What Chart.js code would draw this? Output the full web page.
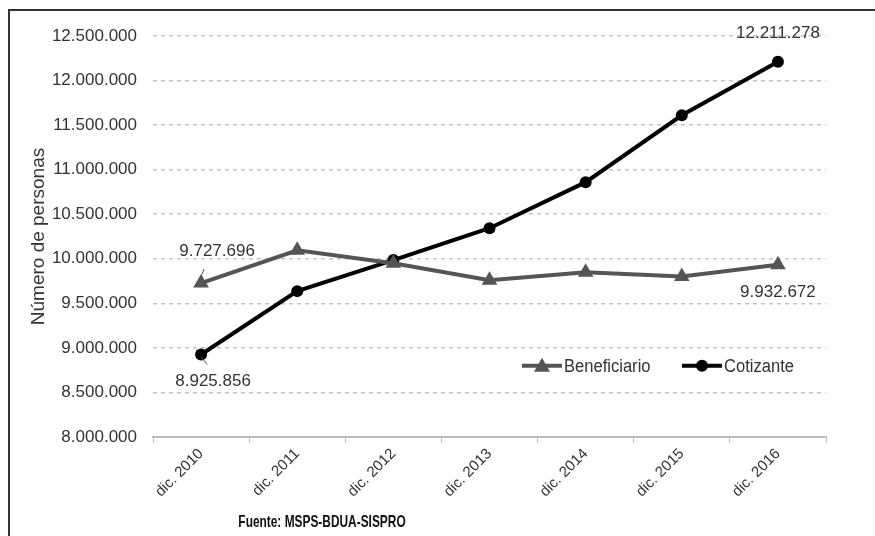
<!DOCTYPE html>
<html lang="es">
<head>
  <meta charset="UTF-8" />
  <title>Número de personas</title>
  <script src="https://cdn.jsdelivr.net/npm/chart.js"></script>
  <style>
    html, body { margin: 0; padding: 0; background: #fff; }
    #wrap { width: 875px; height: 536px; position: relative; }
  </style>
</head>
<body>
  <div id="wrap"><canvas id="grafico" width="875" height="536"></canvas></div>

  <script>
    const anios = ["dic. 2010", "dic. 2011", "dic. 2012", "dic. 2013", "dic. 2014", "dic. 2015", "dic. 2016"];
    const beneficiario = [9727696, 10095000, 9950000, 9760000, 9850000, 9800000, 9932672];
    const cotizante = [8925856, 9637000, 9985000, 10343000, 10860000, 11610000, 12211278];
    const fuente = "Fuente: MSPS-BDUA-SISPRO";

    const fmt = (v) => Math.round(v).toString().replace(/\B(?=(\d{3})+(?!\d))/g, ".");
    const sans = "'Liberation Sans', Arial, sans-serif";

    // etiquetas de primer y último valor, con desplazamiento respecto al punto
    const etiquetas = [
      { ds: 0, i: 0, dx: 16, dy: -32, lx: [3, -3], ly: [-14, 1] },
      { ds: 1, i: 0, dx: 12, dy: 27, lx: [0, 6], ly: [2, 10] },
      { ds: 1, i: 6, dx: 0, dy: -28 },
      { ds: 0, i: 6, dx: 0, dy: 28 }
    ];

    // texto condensado (no hay fuente "narrow" instalada)
    function textoEstrecho(ctx, txt, x, y, esc, align) {
      ctx.save();
      ctx.translate(x, y);
      ctx.scale(esc, 1);
      ctx.textAlign = align;
      ctx.fillText(txt, 0, 0);
      ctx.restore();
    }

    const marco = {
      id: "marco",
      beforeDraw(chart) {
        const ctx = chart.ctx;
        ctx.save();
        ctx.fillStyle = "#fff";
        ctx.fillRect(0, 0, chart.width, chart.height);
        ctx.strokeStyle = "#333";
        ctx.lineWidth = 2;
        ctx.beginPath();
        ctx.moveTo(9, chart.height);
        ctx.lineTo(9, 10);
        ctx.lineTo(chart.width, 10);
        ctx.stroke();
        ctx.restore();
      },
      afterDraw(chart) {
        const ctx = chart.ctx;
        ctx.save();
        ctx.font = "17px " + sans;
        ctx.fillStyle = "#333";
        ctx.textAlign = "center";
        ctx.textBaseline = "middle";
        etiquetas.forEach(e => {
          const p = chart.getDatasetMeta(e.ds).data[e.i];
          const val = chart.data.datasets[e.ds].data[e.i];
          ctx.fillText(fmt(val), p.x + e.dx, p.y + e.dy);
          if (e.lx) {
            ctx.strokeStyle = "#555";
            ctx.lineWidth = 1;
            ctx.beginPath();
            ctx.moveTo(p.x + e.lx[0], p.y + e.ly[0]);
            ctx.lineTo(p.x + e.lx[1], p.y + e.ly[1]);
            ctx.stroke();
          }
        });

        // leyenda dentro del área del gráfico
        const a = chart.chartArea;
        const ly = chart.scales.y.getPixelForValue(8800000);
        const items = [
          { x: a.left + 369, ds: 0 },
          { x: a.left + 529, ds: 1 }
        ];
        items.forEach(it => {
          const d = chart.data.datasets[it.ds];
          ctx.strokeStyle = d.borderColor;
          ctx.lineWidth = 4;
          ctx.beginPath();
          ctx.moveTo(it.x, ly);
          ctx.lineTo(it.x + 40, ly);
          ctx.stroke();
          ctx.fillStyle = d.borderColor;
          ctx.beginPath();
          if (d.pointStyle === "triangle") {
            ctx.moveTo(it.x + 20, ly - 8);
            ctx.lineTo(it.x + 28, ly + 6);
            ctx.lineTo(it.x + 12, ly + 6);
            ctx.closePath();
          } else {
            ctx.arc(it.x + 20, ly, 6, 0, Math.PI * 2);
          }
          ctx.fill();
          ctx.fillStyle = "#333";
          ctx.font = "18px " + sans;
          textoEstrecho(ctx, d.label, it.x + 42, ly + 1, 0.92, "left");
        });

        ctx.font = "bold 17px " + sans;
        ctx.fillStyle = "#111";
        textoEstrecho(ctx, fuente, 322, 522, 0.7, "center");
        ctx.restore();
      }
    };

    new Chart(document.getElementById("grafico"), {
      type: "line",
      data: {
        labels: anios,
        datasets: [
          {
            label: "Beneficiario",
            data: beneficiario,
            borderColor: "#555",
            backgroundColor: "#555",
            borderWidth: 4,
            pointStyle: "triangle",
            pointRadius: 9,
            pointBorderWidth: 0,
            fill: false,
            tension: 0
          },
          {
            label: "Cotizante",
            data: cotizante,
            borderColor: "#000",
            backgroundColor: "#000",
            borderWidth: 4,
            pointStyle: "circle",
            pointRadius: 6,
            pointBorderWidth: 0,
            fill: false,
            tension: 0
          }
        ]
      },
      plugins: [marco],
      options: {
        responsive: false,
        animation: false,
        devicePixelRatio: 1,
        layout: { padding: { left: 27, right: 49, top: 36, bottom: 0 } },
        plugins: {
          legend: { display: false },
          tooltip: { enabled: false }
        },
        scales: {
          x: {
            offset: true,
            afterFit(scale) { scale.height = 99; },
            border: { display: true, color: "#bbb", width: 2 },
            grid: { display: true, drawOnChartArea: false, color: "#bbb", tickLength: 6, offset: true },
            ticks: {
              color: "#333",
              font: { size: 15, family: sans },
              minRotation: 45,
              maxRotation: 45,
              padding: 2
            }
          },
          y: {
            min: 8000000,
            max: 12500000,
            afterFit(scale) { scale.width = 126; },
            grid: { color: "#c4c4c4", lineWidth: 1.5, drawTicks: false },
            border: { display: false, dash: [4, 4] },
            ticks: {
              stepSize: 500000,
              color: "#333",
              padding: 16,
              font: { size: 17, family: sans },
              callback: (v) => fmt(v)
            },
            title: {
              display: true,
              text: "Número de personas",
              color: "#333",
              padding: { top: 0, bottom: 0 },
              font: { size: 19, family: sans }
            }
          }
        }
      }
    });
  </script>
</body>
</html>
